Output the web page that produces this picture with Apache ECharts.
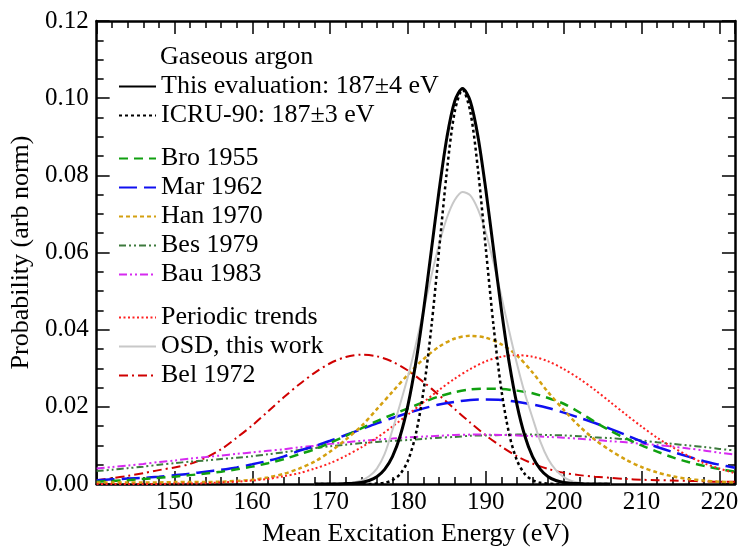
<!DOCTYPE html>
<html><head><meta charset="utf-8">
<script src="https://cdn.jsdelivr.net/npm/echarts@6/dist/echarts.min.js"></script>
<style>html,body{margin:0;padding:0;background:#fff}#c{width:741px;height:552px}</style>
</head><body><div id="c"></div>
<script>
// Energies (eV)
const xBroad = [140,142,144,146,148,150,152,154,156,158,160,162,164,166,168,170,172,174,176,178,180,182,184,186,188,190,192,194,196,198,200,202,204,206,208,210,212,214,216,218,220,222];
const xNarrow = [168,169,170,171,172,173,174,175,176,177,178,179,180,181,182,183,184,185,186,187,188,189,190,191,192,193,194,195,196,197,198,199,200,201,202,203,204,205,206];

// Narrow curves (on xNarrow)
const thisEval = [0,0,0,0,0.0001,0.0002,0.0004,0.0009,0.0019,0.0038,0.0071,0.0125,0.0205,0.0314,0.0451,0.0606,0.0762,0.0899,0.0992,0.1025,0.0992,0.0899,0.0762,0.0606,0.0451,0.0314,0.0205,0.0125,0.0071,0.0038,0.0019,0.0009,0.0004,0.0002,0.0001,0,0,0,0];
const icru90 = [0,0,0,0,0,0,0,0,0.0001,0.0003,0.0010,0.0026,0.0061,0.0129,0.0243,0.0407,0.0609,0.0812,0.0965,0.1022,0.0965,0.0812,0.0609,0.0407,0.0243,0.0129,0.0061,0.0026,0.0010,0.0003,0.0001,0,0,0,0,0,0,0,0];
const osd = [0,0,0,0.0001,0.0002,0.0004,0.0009,0.0020,0.0040,0.0078,0.0140,0.0208,0.0279,0.0361,0.0450,0.0539,0.0622,0.0690,0.0736,0.0757,0.0748,0.0711,0.0651,0.0573,0.0486,0.0396,0.0311,0.0235,0.0171,0.0110,0.0065,0.0036,0.0018,0.0008,0.0003,0.0001,0,0,0];

// Broad curves (on xBroad)
const bro1955 = [0.0006,0.0008,0.0010,0.0013,0.0016,0.0019,0.0023,0.0027,0.0032,0.0038,0.0045,0.0054,0.0064,0.0077,0.0090,0.0107,0.0125,0.0144,0.0163,0.0180,0.0196,0.0212,0.0227,0.0238,0.0245,0.0247,0.0246,0.0242,0.0235,0.0223,0.0208,0.0186,0.0161,0.0138,0.0118,0.0100,0.0084,0.0069,0.0057,0.0047,0.0039,0.0032];
const mar1962 = [0.0010,0.0012,0.0014,0.0016,0.0019,0.0023,0.0027,0.0032,0.0037,0.0043,0.0051,0.0060,0.0071,0.0086,0.0098,0.0112,0.0127,0.0142,0.0157,0.0171,0.0184,0.0196,0.0206,0.0213,0.0218,0.0219,0.0218,0.0213,0.0206,0.0197,0.0185,0.0172,0.0158,0.0143,0.0127,0.0110,0.0096,0.0083,0.0071,0.0059,0.0050,0.0042];
const han1970 = [0.0004,0.0004,0.0004,0.0004,0.0004,0.0005,0.0005,0.0005,0.0006,0.0008,0.0011,0.0017,0.0026,0.0040,0.0058,0.0084,0.0115,0.0150,0.0194,0.0239,0.0284,0.0324,0.0356,0.0377,0.0384,0.0379,0.0362,0.0333,0.0289,0.0238,0.0192,0.0150,0.0115,0.0087,0.0063,0.0044,0.0030,0.0020,0.0013,0.0009,0.0006,0.0004];
const bes1979 = [0.0034,0.0037,0.0041,0.0045,0.0050,0.0054,0.0058,0.0061,0.0065,0.0068,0.0072,0.0077,0.0082,0.0088,0.0093,0.0098,0.0102,0.0106,0.0109,0.0112,0.0114,0.0117,0.0120,0.0122,0.0125,0.0126,0.0127,0.0128,0.0128,0.0127,0.0126,0.0124,0.0121,0.0119,0.0116,0.0113,0.0108,0.0104,0.0100,0.0096,0.0091,0.0087];
const bau1983 = [0.0040,0.0044,0.0048,0.0052,0.0057,0.0061,0.0066,0.0070,0.0074,0.0078,0.0082,0.0086,0.0090,0.0095,0.0099,0.0104,0.0108,0.0112,0.0115,0.0118,0.0121,0.0123,0.0125,0.0127,0.0128,0.0128,0.0127,0.0126,0.0124,0.0122,0.0120,0.0117,0.0114,0.0111,0.0108,0.0104,0.0101,0.0097,0.0092,0.0087,0.0081,0.0076];
const periodic = [0,0,0,0,0,0.0001,0.0001,0.0002,0.0004,0.0006,0.0009,0.0013,0.0020,0.0028,0.0040,0.0054,0.0073,0.0095,0.0120,0.0149,0.0180,0.0212,0.0244,0.0273,0.0298,0.0318,0.0330,0.0334,0.0330,0.0318,0.0298,0.0273,0.0244,0.0212,0.0180,0.0149,0.0120,0.0095,0.0073,0.0054,0.0040,0.0028];
const bel1972 = [0.0010,0.0015,0.0021,0.0028,0.0036,0.0043,0.0052,0.0068,0.0090,0.0120,0.0152,0.0188,0.0224,0.0258,0.0288,0.0313,0.0329,0.0335,0.0331,0.0317,0.0294,0.0264,0.0230,0.0194,0.0159,0.0126,0.0097,0.0072,0.0053,0.0039,0.0029,0.0023,0.0019,0.0016,0.0013,0.0011,0.0010,0.0009,0.0008,0.0007,0.0006,0.0006];

const seriesNames = {
  thisEval: 'This evaluation: 187\u00b14 eV',
  icru: 'ICRU-90: 187\u00b13 eV',
  bro: 'Bro 1955', mar: 'Mar 1962', han: 'Han 1970', bes: 'Bes 1979', bau: 'Bau 1983',
  per: 'Periodic trends', osd: 'OSD, this work', bel: 'Bel 1972'
};

const FONT = 'Liberation Serif';
function pairs(xs, ys){ return xs.map((x,i)=>[x, ys[i]]); }
function mk(name, xs, ys, color, width, type, z){
  return {name, type:'line', data:pairs(xs,ys), smooth:0.3, symbol:'none', z:z||2,
    lineStyle:{color, width, type, cap:'butt'}, itemStyle:{color}};
}

const chart = echarts.init(document.getElementById('c'), null, {renderer:'canvas'});
const axisLineStyle = {color:'#000', width:2.5};
const tickStyle = {color:'#000', width:1.5};
const legendText = {fontFamily:FONT, fontSize:26, lineHeight:29, color:'#000'};
function legend(top, data){
  return {orient:'vertical', left:118, top, itemWidth:37, itemHeight:14, itemGap:0, padding:0,
    selectedMode:false, textStyle:legendText, itemStyle:{opacity:0}, data};
}
chart.setOption({
  animation:false,
  backgroundColor:'#fff',
  title:{text:'Gaseous argon', left:160, top:43, padding:0,
    textStyle:{fontFamily:FONT, fontSize:26, lineHeight:29, fontWeight:'normal', color:'#000'}},
  legend:[
    legend(72, [seriesNames.thisEval, seriesNames.icru]),
    legend(144, [seriesNames.bro, seriesNames.mar, seriesNames.han, seriesNames.bes, seriesNames.bau]),
    legend(303, [seriesNames.per, seriesNames.osd, seriesNames.bel])
  ],
  grid:{left:91, right:4, top:21, bottom:57},
  xAxis:[
    {type:'value', min:140, max:222, interval:10, position:'bottom',
     axisLine:{show:true, onZero:false, lineStyle:axisLineStyle},
     axisTick:{inside:true, length:13, lineStyle:tickStyle},
     axisLabel:{margin:6, fontFamily:FONT, fontSize:25, color:'#000',
       formatter:v=> (v%10===0 && v>=150 && v<=220) ? String(v) : ''},
     splitLine:{show:false},
     name:'Mean Excitation Energy (eV)', nameLocation:'middle', nameGap:37,
     nameTextStyle:{fontFamily:FONT, fontSize:26, color:'#000'}},
    {type:'value', min:140, max:222, interval:2, position:'bottom',
     axisLine:{show:false, onZero:false}, axisTick:{inside:true, length:7, lineStyle:tickStyle},
     axisLabel:{show:false}, splitLine:{show:false}},
    {type:'value', min:140, max:222, interval:10, position:'top',
     axisLine:{show:true, onZero:false, lineStyle:axisLineStyle},
     axisTick:{inside:true, length:13, lineStyle:tickStyle},
     axisLabel:{show:false}, splitLine:{show:false}},
    {type:'value', min:140, max:222, interval:2, position:'top',
     axisLine:{show:false, onZero:false}, axisTick:{inside:true, length:7, lineStyle:tickStyle},
     axisLabel:{show:false}, splitLine:{show:false}}
  ],
  yAxis:[
    {type:'value', min:0, max:0.12, interval:0.02, position:'left',
     axisLine:{show:true, onZero:false, lineStyle:axisLineStyle},
     axisTick:{inside:true, length:13, lineStyle:tickStyle},
     minorTick:{show:true, splitNumber:4, length:7, lineStyle:tickStyle},
     axisLabel:{margin:8, fontFamily:FONT, fontSize:25, color:'#000', formatter:v=>v.toFixed(2)},
     splitLine:{show:false},
     name:'Probability (arb norm)', nameLocation:'middle', nameGap:55,
     nameTextStyle:{fontFamily:FONT, fontSize:26, color:'#000'}},
    {type:'value', min:0, max:0.12, interval:0.02, position:'right',
     axisLine:{show:true, onZero:false, lineStyle:axisLineStyle},
     axisTick:{inside:true, length:13, lineStyle:tickStyle},
     minorTick:{show:true, splitNumber:4, length:7, lineStyle:tickStyle},
     axisLabel:{show:false}, splitLine:{show:false}}
  ],
  series:[
    mk(seriesNames.bel, xBroad, bel1972, '#d00000', 2, [9,4,2,4]),
    mk(seriesNames.bes, xBroad, bes1979, '#3d7a3d', 2, [7,3,2,3,2,3]),
    mk(seriesNames.bau, xBroad, bau1983, '#d62af0', 2, [8,3,2,3,2,3]),
    mk(seriesNames.mar, xBroad, mar1962, '#1010f0', 2.5, [18,7]),
    mk(seriesNames.bro, xBroad, bro1955, '#10a010', 2.5, [9,6]),
    mk(seriesNames.han, xBroad, han1970, '#d4a010', 2.5, [4,3]),
    mk(seriesNames.per, xBroad, periodic, '#ff2020', 2, [2,2.5]),
    mk(seriesNames.osd, xNarrow, osd, '#c8c8c8', 2, 'solid', 3),
    mk(seriesNames.icru, xNarrow, icru90, '#000000', 2.5, [3,3], 4),
    mk(seriesNames.thisEval, xNarrow, thisEval, '#000000', 3, 'solid', 5)
  ]
});
</script>
</body></html>
